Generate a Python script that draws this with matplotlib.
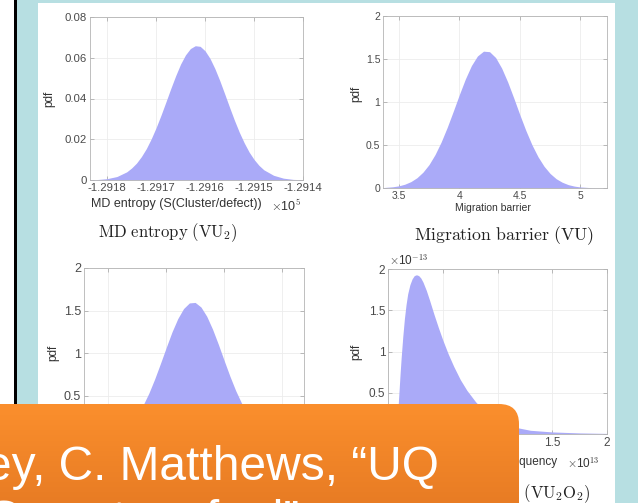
import matplotlib
matplotlib.use("Agg")
import matplotlib.pyplot as plt
import numpy as np
from matplotlib.patches import Rectangle, FancyBboxPatch
from matplotlib.ticker import FuncFormatter

W, H = 638, 503

# MD entropy of VU2, S(Cluster/defect) in raw units (axis reads x1e5)
entropy_s = [-129184, -129182, -129180, -129178, -129176, -129175, -129174,
             -129173, -129172, -129171, -129170, -129169, -129168, -129167,
             -129166, -129165, -129164, -129163, -129162, -129161, -129160,
             -129159, -129158, -129157, -129156, -129155, -129154, -129153,
             -129152, -129151, -129150, -129149, -129148, -129146, -129144,
             -129142, -129140]
entropy_pdf = [0.00007, 0.00023, 0.00067, 0.0017, 0.0040, 0.0059, 0.0083,
               0.0115, 0.0154, 0.0202, 0.0257, 0.0318, 0.0383, 0.0449,
               0.0512, 0.0569, 0.0614, 0.0645, 0.0659, 0.0656, 0.0634,
               0.0597, 0.0547, 0.0488, 0.0423, 0.0357, 0.0293, 0.0234,
               0.0182, 0.0137, 0.0101, 0.0072, 0.0050, 0.0023, 0.0009,
               0.0003, 0.0001]

# migration barrier of VU
barrier_vu = [3.37, 3.45, 3.5, 3.55, 3.6, 3.65, 3.7, 3.75, 3.8, 3.85, 3.9,
              3.95, 4.0, 4.05, 4.1, 4.15, 4.2, 4.25, 4.3, 4.35, 4.4, 4.45,
              4.5, 4.55, 4.6, 4.65, 4.7, 4.75, 4.8, 4.85, 4.9, 4.95, 5.0,
              5.1, 5.22]
barrier_vu_pdf = [0.005, 0.014, 0.025, 0.044, 0.074, 0.119, 0.184, 0.272,
                  0.389, 0.534, 0.704, 0.891, 1.084, 1.267, 1.423, 1.535,
                  1.591, 1.585, 1.517, 1.394, 1.232, 1.046, 0.852, 0.668,
                  0.503, 0.364, 0.253, 0.169, 0.108, 0.067, 0.039, 0.022,
                  0.012, 0.003, 0.0005]

# migration barrier of VU2
barrier_vu2 = [3.3, 3.4, 3.5, 3.55, 3.6, 3.65, 3.7, 3.75, 3.8, 3.85, 3.9,
               3.95, 4.0, 4.05, 4.1, 4.15, 4.2, 4.25, 4.3, 4.35, 4.4, 4.45,
               4.5, 4.55, 4.6, 4.65, 4.7, 4.75, 4.8, 4.9, 5.0, 5.1, 5.19]
barrier_vu2_pdf = [0.002, 0.008, 0.027, 0.046, 0.076, 0.120, 0.185, 0.273,
                   0.386, 0.527, 0.693, 0.876, 1.065, 1.248, 1.405, 1.523,
                   1.589, 1.595, 1.541, 1.432, 1.281, 1.103, 0.913, 0.728,
                   0.558, 0.412, 0.293, 0.200, 0.132, 0.051, 0.017, 0.005,
                   0.001]

# jump frequency of VU2O2 (x1e13) and its pdf (x1e-13)
freq = [0, 0.07, 0.08, 0.09, 0.1, 0.11, 0.12, 0.135, 0.15, 0.165, 0.18, 0.2,
        0.22, 0.24, 0.26, 0.28, 0.30, 0.32, 0.35, 0.38, 0.42, 0.46, 0.5,
        0.55, 0.6, 0.66, 0.72, 0.8, 0.88, 0.96, 1.05, 1.15, 1.3, 1.5, 1.75,
        2.0]
freq_pdf = [0, 0, 0.1, 0.28, 0.5, 0.72, 0.92, 1.18, 1.4, 1.57, 1.7, 1.81,
            1.88, 1.92, 1.93, 1.92, 1.89, 1.84, 1.74, 1.62, 1.45, 1.29, 1.14,
            0.97, 0.82, 0.66, 0.53, 0.39, 0.28, 0.2, 0.135, 0.085, 0.045,
            0.025, 0.013, 0.007]

plt.rcParams['mathtext.fontset'] = 'cm'
plt.rcParams['font.family'] = ['Liberation Sans', 'DejaVu Sans']

FILL = '#aaaaf8'
TICK = '#4a4a4a'
LABEL = '#333333'


def fx(x):
    return x / W


def fy(y):
    return 1 - y / H


def make_axes(fig, left, top, right, bottom, size):
    ax = fig.add_axes([fx(left), fy(bottom), (right - left) / W, (bottom - top) / H])
    ax.set_facecolor('white')
    for s in ax.spines.values():
        s.set_color('#b4b4b4')
        s.set_linewidth(0.6)
    ax.tick_params(direction='in', length=3, width=0.5, color='#a0a0a0',
                   labelsize=size, labelcolor=TICK, top=True, right=True, pad=2)
    ax.grid(True, color='#ececec', linewidth=0.6)
    ax.set_axisbelow(True)
    ax.xaxis.set_major_formatter(FuncFormatter(lambda v, p: '%g' % v))
    ax.yaxis.set_major_formatter(FuncFormatter(lambda v, p: '%g' % v))
    return ax


fig = plt.figure(figsize=(W / 100, H / 100), dpi=100)
fig.patch.set_facecolor('#b7dfe2')

# slide background pieces
bg = fig.add_axes([0, 0, 1, 1], zorder=-5)
bg.set_xlim(0, W)
bg.set_ylim(H, 0)
bg.axis('off')
bg.add_patch(Rectangle((0, 0), 14, H, color='white', lw=0))
bg.add_patch(Rectangle((14, 0), 3, 410, color='black', lw=0))
bg.add_patch(Rectangle((38, 3), 577, H, color='white', lw=0))

# MD entropy
ax1 = make_axes(fig, 90, 17, 303, 180, 8.2)
ax1.fill_between(entropy_s, entropy_pdf, color=FILL, lw=0)
ax1.set_xlim(-129183.5, -129140)
ax1.set_ylim(0, 0.08)
ax1.set_xticks([-129180, -129170, -129160, -129150, -129140])
ax1.xaxis.set_major_formatter(FuncFormatter(lambda v, p: '%.4f' % (v / 1e5)))
ax1.set_yticks([0, 0.02, 0.04, 0.06, 0.08])

# migration barrier VU
ax2 = make_axes(fig, 383, 16, 607, 188, 7.5)
ax2.fill_between(barrier_vu, barrier_vu_pdf, color=FILL, lw=0)
ax2.set_xlim(3.37, 5.22)
ax2.set_ylim(0, 2)
ax2.set_xticks([3.5, 4, 4.5, 5])
ax2.set_yticks([0, 0.5, 1, 1.5, 2])

# migration barrier VU2 (its x labels sit under the callout)
ax3 = make_axes(fig, 84, 268, 304, 438, 9)
ax3.fill_between(barrier_vu2, barrier_vu2_pdf, color=FILL, lw=0)
ax3.set_xlim(3.29, 5.19)
ax3.set_ylim(0, 2)
ax3.set_xticks([3.5, 4, 4.5, 5])
ax3.set_xticklabels([])
ax3.set_yticks([0, 0.5, 1, 1.5, 2])

# jump frequency VU2O2
ax4 = make_axes(fig, 388, 269, 607, 434, 8.5)
ax4.fill_between(freq, freq_pdf, color=FILL, lw=0)
ax4.set_xlim(0, 2)
ax4.set_ylim(0, 2)
ax4.set_xticks([0, 0.5, 1, 1.5, 2])
ax4.set_yticks([0, 0.5, 1, 1.5, 2])

# axis labels, exponents and panel titles
lab = dict(color=LABEL, ha='center', va='center')
for x, y in [(49, 99), (356, 94), (53, 353), (356, 352)]:
    fig.text(fx(x), fy(y), 'pdf', rotation=90, fontsize=8.5, **lab)
fig.text(fx(176), fy(204), 'MD entropy (S(Cluster/defect))', fontsize=9, **lab)
fig.text(fx(493), fy(208), 'Migration barrier', fontsize=7.5, **lab)
fig.text(fx(494), fy(462), 'Jump attempt frequency', fontsize=8.5, **lab)
fig.text(fx(301), fy(206), r'$\times$10$^{5}$', fontsize=9, color=LABEL,
         ha='right', va='center')
fig.text(fx(600), fy(463), r'$\times$10$^{13}$', fontsize=8.5, color=LABEL,
         ha='right', va='center')
fig.text(fx(389), fy(260), r'$\times$10$^{-13}$', fontsize=8.5, color=LABEL,
         ha='left', va='center')

tit = dict(color='#222222', ha='center', va='center')
fig.text(fx(168), fy(233), r'$\mathrm{MD\ entropy\ (VU_2)}$', fontsize=12, **tit)
fig.text(fx(504), fy(236), r'$\mathrm{Migration\ barrier\ (VU)}$', fontsize=12.8, **tit)
fig.text(fx(497), fy(494), r'$\mathrm{Jump\ frequency\ (VU_2O_2)}$', fontsize=12, **tit)

# orange reference callout
fg = fig.add_axes([0, 0, 1, 1], zorder=10)
fg.set_xlim(0, W)
fg.set_ylim(H, 0)
fg.axis('off')
fg.patch.set_alpha(0)
box = FancyBboxPatch((-60, 404), 579, 200, boxstyle='round,pad=0,rounding_size=20',
                     lw=0, facecolor='none')
fg.add_patch(box)
top_c = np.array([251, 143, 45]) / 255
bot_c = np.array([232, 124, 36]) / 255
t = np.linspace(0, 1, 100)[:, None]
grad = (top_c[None, None, :] * (1 - t[..., None]) + bot_c[None, None, :] * t[..., None])
grad = np.repeat(grad, 2, axis=1)
img = fg.imshow(grad, extent=(-60, 519, 503, 404), aspect='auto', interpolation='bilinear')
img.set_clip_path(box)
fg.set_xlim(0, W)
fg.set_ylim(H, 0)

fg.text(-15, 480, 'ey, C. Matthews, \u201cUQ', fontsize=34.5, color='white',
        ha='left', va='baseline')
fg.text(-15, 534, 'Gas atom fuel\u201d', fontsize=34.5, color='white',
        ha='left', va='baseline')

fig.savefig('out.png', dpi=100)
